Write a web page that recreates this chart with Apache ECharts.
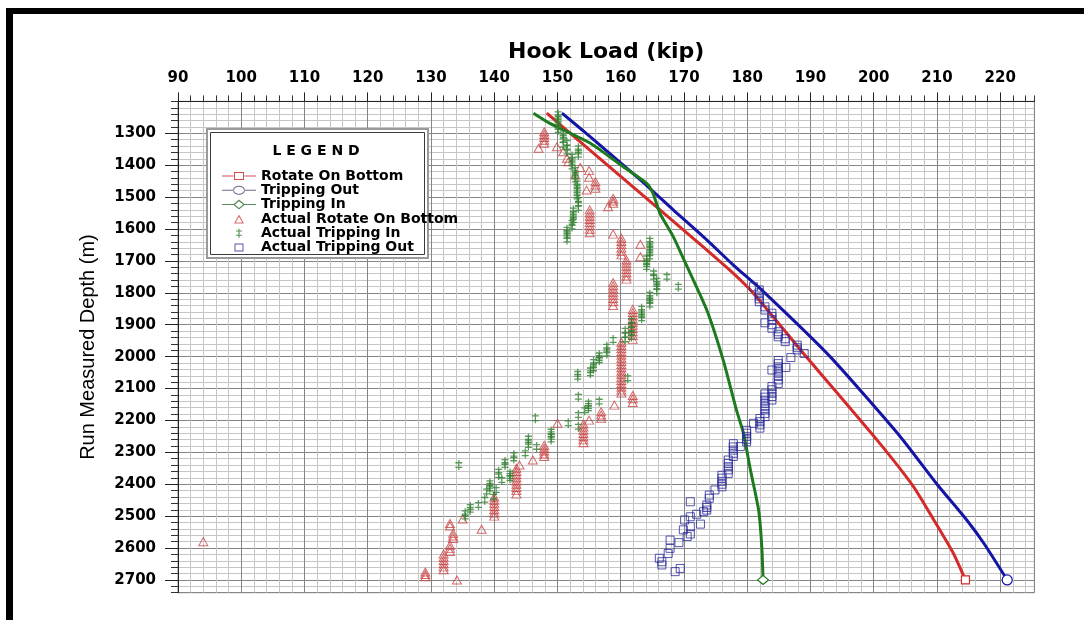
<!DOCTYPE html>
<html>
<head>
<meta charset="utf-8">
<title>Hook Load vs Run Measured Depth</title>
<script src="https://cdn.jsdelivr.net/npm/echarts/dist/echarts.min.js"></script>
<style>
  html, body { margin: 0; padding: 0; background: #ffffff; }
  #chart { width: 1084px; height: 620px; }
</style>
</head>
<body>
<div id="chart"></div>
<script>
// Model curves: [hook load (kip), run measured depth (m)]
const rotateOnBottom = [
  [148.3, 1237], [157.9, 1400], [165.6, 1530], [171.5, 1630], [177.8, 1739],
  [181.0, 1802], [188.9, 1990], [200.5, 2261], [206.3, 2408], [209.5, 2512],
  [212.6, 2617], [214.5, 2700]
];
const trippingOut = [
  [150.7, 1237], [155.2, 1311], [163.1, 1446], [168.3, 1540], [173.6, 1634],
  [177.8, 1713], [182.6, 1797], [193.1, 2000], [204.2, 2251], [210.0, 2400],
  [214.7, 2512], [217.4, 2585], [221.1, 2700]
];
const trippingIn = [
  [146.2, 1237], [148.8, 1269], [155.2, 1331], [160.4, 1405], [164.1, 1457],
  [165.1, 1488], [166.2, 1551], [168.3, 1624], [170.0, 1697], [173.6, 1854],
  [176.2, 2011], [178.3, 2168], [179.4, 2240], [180.5, 2355], [181.8, 2481],
  [182.3, 2596], [182.5, 2700]
];

// Field readings
const actualRotateOnBottom = [
  [147.9, 1295], [147.9, 1304], [147.9, 1313], [147.9, 1322], [147.9, 1331],
  [147.0, 1347], [149.9, 1342], [150.9, 1358], [151.5, 1378], [151.7, 1389],
  [153.6, 1407], [152.8, 1431], [155.0, 1417], [155.0, 1438],
  [156.0, 1452], [156.0, 1462], [156.0, 1472], [154.6, 1478],
  [158.8, 1504], [158.8, 1512], [158.8, 1519], [158.0, 1530],
  [155.1, 1540], [155.1, 1550], [155.1, 1560], [155.1, 1570], [155.1, 1580],
  [155.1, 1590], [155.1, 1601], [155.1, 1612], [158.8, 1616],
  [160.1, 1629], [160.1, 1639], [160.1, 1649], [160.1, 1660], [160.1, 1670], [160.1, 1681],
  [163.1, 1648], [163.1, 1687],
  [160.9, 1697], [160.9, 1707], [160.9, 1717], [160.9, 1727], [160.9, 1737],
  [160.9, 1747], [160.9, 1757],
  [158.8, 1768], [158.8, 1778], [158.8, 1788], [158.8, 1798], [158.8, 1808],
  [158.8, 1818], [158.8, 1828], [158.8, 1840],
  [161.9, 1852], [161.9, 1862], [161.9, 1872], [161.9, 1882], [161.9, 1892],
  [161.9, 1902], [161.9, 1912], [161.9, 1922], [161.9, 1934], [161.9, 1946],
  [160.1, 1955], [160.1, 1965], [160.1, 1975], [160.1, 1985], [160.1, 1995],
  [160.1, 2005], [160.1, 2015], [160.1, 2025], [160.1, 2035], [160.1, 2045],
  [160.1, 2055], [160.1, 2065], [160.1, 2075], [160.1, 2085], [160.1, 2095],
  [160.1, 2105], [160.1, 2114],
  [161.9, 2122], [161.9, 2132], [161.9, 2144], [159.0, 2152],
  [156.9, 2173], [156.9, 2183], [156.9, 2193], [155.0, 2199], [150.0, 2209],
  [154.1, 2211], [154.1, 2221], [154.1, 2231], [154.1, 2241], [154.1, 2251],
  [154.1, 2261], [154.1, 2270],
  [147.9, 2278], [147.9, 2287], [147.9, 2296], [147.9, 2305], [147.9, 2313],
  [146.1, 2324], [144.0, 2340],
  [143.5, 2350], [143.5, 2360], [143.5, 2370], [143.5, 2380], [143.5, 2390],
  [143.5, 2400], [143.5, 2410], [143.5, 2420], [143.5, 2431],
  [140.0, 2440], [140.0, 2450], [140.0, 2460], [140.0, 2470], [140.0, 2480],
  [140.0, 2490], [140.0, 2500],
  [135.0, 2509], [138.0, 2541], [133.0, 2523], [133.0, 2531],
  [133.5, 2554], [133.5, 2562], [133.5, 2570],
  [133.0, 2591], [133.0, 2601], [133.0, 2611],
  [132.0, 2619], [132.0, 2629], [132.0, 2639], [132.0, 2649], [132.0, 2659], [132.0, 2668],
  [129.1, 2675], [129.1, 2683], [129.1, 2690], [134.1, 2700], [94.0, 2580]
];
const actualTrippingIn = [
  [150.1, 1240], [150.1, 1250], [150.1, 1260], [150.1, 1270], [150.1, 1280], [150.1, 1290],
  [150.9, 1300], [150.9, 1310], [150.9, 1320], [150.9, 1336],
  [151.5, 1330], [151.5, 1345], [151.5, 1357],
  [153.3, 1347], [153.3, 1357], [153.3, 1367],
  [152.3, 1373], [152.3, 1383], [152.3, 1394], [152.3, 1404],
  [152.8, 1415], [152.8, 1425], [152.8, 1435], [152.8, 1445],
  [153.1, 1457], [153.1, 1467], [153.1, 1478], [153.1, 1488], [153.1, 1498],
  [153.3, 1509], [153.3, 1521], [153.3, 1534],
  [152.5, 1542], [152.5, 1552], [152.5, 1562], [152.5, 1572],
  [152.3, 1581], [152.3, 1592],
  [151.5, 1602], [151.5, 1612], [151.5, 1622], [151.5, 1633],
  [164.6, 1637], [164.6, 1647], [164.6, 1657], [164.6, 1666], [164.6, 1676], [164.6, 1686],
  [164.1, 1692], [164.1, 1701], [164.1, 1710], [164.1, 1719],
  [165.2, 1739], [165.2, 1750], [167.3, 1750], [169.1, 1781],
  [165.7, 1762], [165.7, 1772], [165.7, 1782], [165.7, 1795],
  [164.6, 1806], [164.6, 1816], [164.6, 1826], [164.6, 1837],
  [163.3, 1850], [163.3, 1860], [163.3, 1870], [163.3, 1880],
  [161.7, 1888], [161.7, 1901], [161.7, 1914], [161.7, 1926], [161.7, 1937],
  [160.7, 1919], [160.7, 1932], [160.7, 1946], [158.8, 1948],
  [157.8, 1969], [157.8, 1980], [157.8, 1990],
  [156.6, 1996], [156.6, 2004], [156.6, 2011],
  [155.7, 2017], [155.7, 2027], [155.7, 2037],
  [155.2, 2043], [155.2, 2052], [153.2, 2054], [153.2, 2063], [161.1, 2068],
  [153.3, 2126], [156.6, 2141], [154.9, 2147], [154.9, 2155], [154.9, 2162],
  [154.3, 2168], [153.3, 2183], [146.5, 2193], [151.7, 2209], [153.3, 2220],
  [149.0, 2235], [149.0, 2243], [149.0, 2251], [149.0, 2260],
  [145.4, 2257], [145.4, 2267], [145.4, 2277], [146.7, 2283], [144.9, 2303],
  [143.1, 2309], [143.1, 2319], [141.7, 2330], [141.7, 2340], [134.4, 2340],
  [142.5, 2366], [142.5, 2374], [142.5, 2381], [140.7, 2361], [140.7, 2371],
  [141.2, 2387], [139.3, 2397], [139.3, 2405], [139.3, 2413],
  [140.3, 2418], [138.8, 2423], [139.9, 2439], [138.5, 2449], [137.5, 2465],
  [136.2, 2471], [136.2, 2480], [135.4, 2491], [135.4, 2501]
];
const actualTrippingOut = [
  [181.0, 1781], [181.9, 1791], [181.9, 1800], [181.9, 1810], [181.9, 1819], [181.9, 1828],
  [182.8, 1844], [182.8, 1854],
  [183.9, 1864], [183.9, 1874], [183.9, 1884], [183.9, 1900], [183.9, 1911], [182.8, 1894],
  [184.9, 1922], [184.9, 1930], [184.9, 1938], [186.0, 1944], [186.0, 1953],
  [187.9, 1964], [187.9, 1972], [187.9, 1979], [189.0, 1990], [186.9, 2003],
  [184.9, 2012], [184.9, 2022], [184.9, 2032], [184.9, 2042], [184.9, 2052],
  [184.9, 2062], [184.9, 2073], [184.9, 2084], [186.1, 2034], [183.9, 2042],
  [183.9, 2094], [183.9, 2104], [183.9, 2115], [183.9, 2125], [183.9, 2136],
  [182.8, 2117], [182.8, 2127], [182.8, 2137], [182.8, 2147], [182.8, 2157],
  [182.8, 2167], [182.8, 2178], [182.8, 2188],
  [182.0, 2194], [182.0, 2204], [182.0, 2214], [182.0, 2224], [181.0, 2209],
  [179.9, 2231], [179.9, 2240], [179.9, 2250], [179.9, 2259], [179.9, 2267], [178.9, 2282],
  [177.8, 2273], [177.8, 2283], [177.8, 2293], [177.8, 2303], [177.8, 2313],
  [177.0, 2324], [177.0, 2335], [177.0, 2345], [177.0, 2355], [177.0, 2366],
  [176.0, 2372], [176.0, 2381], [176.0, 2391], [176.0, 2400], [176.0, 2408],
  [174.9, 2418], [174.0, 2434], [174.0, 2444],
  [173.6, 2465], [173.6, 2473], [173.6, 2481], [173.1, 2486], [172.0, 2494],
  [171.0, 2455], [171.0, 2502], [170.1, 2512], [172.6, 2525], [171.0, 2533], [169.9, 2543],
  [171.0, 2556], [170.5, 2564], [169.2, 2583], [167.8, 2575], [167.8, 2601], [167.5, 2617],
  [166.1, 2632], [166.5, 2643], [166.5, 2653], [169.4, 2664], [168.6, 2674]
];

// Axis ranges and tick steps
const loadMin = 90, loadMax = 225.4, loadMajor = 10, loadMinor = 2;
const depthMin = 1200, depthMax = 2740, depthMajor = 100, depthMinor = 20;

const legendNames = [
  'Rotate On Bottom', 'Tripping Out', 'Tripping In',
  'Actual Rotate On Bottom', 'Actual Tripping In', 'Actual Tripping Out'
];

const RED = '#d42a2a', BLUE = '#1414a6', GREEN = '#1e7a1e';
const RED_MARK = '#c94444', GREEN_MARK = '#2f7f2f', BLUE_MARK = '#2a2a9a';

const tickFont = { fontFamily: 'DejaVu Sans', fontWeight: 'bold', fontSize: 15, color: '#000' };
const plainNumber = v => String(v);

// Legend icons drawn in a 34 x 10 box; the two dots pin the box size.
const pin = 'M0,0h0.01v0.01h-0.01z M33.99,9.99h0.01v0.01h-0.01z ';
const stubs = 'M0,4.5h11.5v1h-11.5z M22.5,4.5h11.5v1h-11.5z ';
const legendIcons = [
  'path://' + pin + stubs + 'M12,1h10v8h-10z M13,2v6h8v-6z',
  'path://' + pin + stubs + 'M11,5a6,4.5 0 1,0 12,0a6,4.5 0 1,0 -12,0z M12,5a5,3.5 0 1,1 10,0a5,3.5 0 1,1 -10,0z',
  'path://' + pin + stubs + 'M17,0L23,5L17,10L11,5Z M17,1.6L12.9,5L17,8.4L21.1,5Z',
  'path://' + pin + 'M17,0.5L22,9.5L12,9.5Z M17,2.8L13.7,8.6L20.3,8.6Z',
  'path://' + pin + 'M16.4,0.5h1.2v9h-1.2z M14,2.4h6v1h-6z M14,6.6h6v1h-6z',
  'path://' + pin + 'M12.5,1h9v8h-9z M13.5,2v6h7v-6z'
];
const legendColors = ['#c85050', '#6a6a8a', '#5a8a5a', RED_MARK, GREEN_MARK, BLUE_MARK];

const crossSymbol = 'path://M3,0h1.3v10h-1.3z M0,2h7.3v1.3h-7.3z M0,6.7h7.3v1.3h-7.3z';

function endMark(points, symbol, color, size) {
  const last = points[points.length - 1];
  return {
    symbol: symbol,
    symbolSize: size,
    label: { show: false },
    itemStyle: { color: '#fff', borderColor: color, borderWidth: 1.2 },
    data: [{ coord: last }]
  };
}

function curve(name, points, color, endSymbol, endSize) {
  return {
    name: name, type: 'line', xAxisIndex: 1, yAxisIndex: 1,
    data: points, symbol: 'none', smooth: 0.2,
    lineStyle: { color: color, width: 3 },
    itemStyle: { color: color },
    markPoint: endMark(points, endSymbol, color, endSize),
    z: 3
  };
}

function readings(name, points, symbol, size, style) {
  return {
    name: name, type: 'scatter', xAxisIndex: 1, yAxisIndex: 1,
    data: points, symbol: symbol, symbolSize: size, itemStyle: style, z: 4
  };
}

const chart = echarts.init(document.getElementById('chart'), null, { renderer: 'canvas' });

chart.setOption({
  animation: false,
  backgroundColor: '#ffffff',
  grid: {
    left: 178, right: 49.6, top: 101.4, bottom: 27.3,
    containLabel: false, outerBoundsMode: 'none',
    show: true, borderColor: '#8a8a8a', borderWidth: 1, backgroundColor: '#fff'
  },
  xAxis: [
    {
      type: 'value', position: 'top', min: loadMin, max: loadMax, interval: loadMinor,
      axisLine: { show: false },
      axisTick: { show: true, length: 6, lineStyle: { color: '#333' } },
      axisLabel: { show: false },
      splitLine: { show: true, lineStyle: { color: '#c6c6c6', width: 1 } }
    },
    {
      type: 'value', position: 'top', min: loadMin, max: loadMax, interval: loadMajor,
      name: 'Hook Load (kip)', nameLocation: 'middle', nameGap: 38,
      nameTextStyle: { fontFamily: 'DejaVu Sans', fontWeight: 'bold', fontSize: 22, color: '#000' },
      axisLine: { show: true, onZero: false, lineStyle: { color: '#222', width: 1 } },
      axisTick: { show: true, length: 9, lineStyle: { color: '#222' } },
      axisLabel: Object.assign({ margin: 16, showMaxLabel: false, formatter: plainNumber }, tickFont),
      splitLine: { show: true, lineStyle: { color: '#858585', width: 1 } }
    }
  ],
  yAxis: [
    {
      type: 'value', position: 'left', inverse: true, min: depthMin, max: depthMax, interval: depthMinor,
      axisLine: { show: false },
      axisTick: { show: true, length: 7, lineStyle: { color: '#333' } },
      axisLabel: { show: false },
      splitLine: { show: true, lineStyle: { color: '#c6c6c6', width: 1 } }
    },
    {
      type: 'value', position: 'left', inverse: true, min: depthMin, max: depthMax, interval: depthMajor,
      name: 'Run Measured Depth (m)', nameLocation: 'middle', nameGap: 80,
      nameTextStyle: { fontFamily: 'Liberation Sans', fontSize: 20, color: '#000' },
      axisLine: { show: true, onZero: false, lineStyle: { color: '#222', width: 1 } },
      axisTick: { show: true, length: 13, lineStyle: { color: '#222' } },
      axisLabel: Object.assign({ margin: 22, showMinLabel: false, showMaxLabel: false, formatter: plainNumber }, tickFont),
      splitLine: { show: true, lineStyle: { color: '#858585', width: 1 } }
    }
  ],
  legend: {
    orient: 'vertical', left: 217, top: 164, z: 20,
    itemWidth: 34, itemHeight: 10, itemGap: 0.3,
    selectedMode: false,
    itemStyle: { borderWidth: 0 },
    textStyle: { fontFamily: 'DejaVu Sans', fontWeight: 'bold', fontSize: 14, color: '#000', lineHeight: 13 },
    data: legendNames.map((n, i) => ({
      name: n, icon: legendIcons[i],
      itemStyle: { color: legendColors[i], borderWidth: 0 }
    }))
  },
  graphic: [
    { type: 'rect', z: 15, shape: { x: 12, y: 8, width: 1072, height: 6 }, style: { fill: '#000' } },
    { type: 'rect', z: 15, shape: { x: 6, y: 8, width: 7, height: 612 }, style: { fill: '#000' } },
    { type: 'rect', z: 15, shape: { x: 207, y: 129, width: 221, height: 129 },
      style: { fill: '#fff', stroke: '#9a9a9a', lineWidth: 2 } },
    { type: 'rect', z: 16, shape: { x: 210.5, y: 132.5, width: 214, height: 122 },
      style: { fill: '#fff', stroke: '#3a3a3a', lineWidth: 1 } },
    { type: 'text', z: 17, x: 316, y: 151,
      style: { text: 'L E G E N D', fontFamily: 'DejaVu Sans', fontWeight: 'bold', fontSize: 14,
               fill: '#000', align: 'center', verticalAlign: 'middle' } }
  ],
  series: [
    curve('Rotate On Bottom', rotateOnBottom, RED, 'rect', 8),
    curve('Tripping Out', trippingOut, BLUE, 'circle', 10),
    curve('Tripping In', trippingIn, GREEN, 'diamond', [11, 9]),
    readings('Actual Rotate On Bottom', actualRotateOnBottom, 'triangle', [9, 8],
      { color: 'rgba(0,0,0,0)', borderColor: RED_MARK, borderWidth: 1 }),
    readings('Actual Tripping In', actualTrippingIn, crossSymbol, [7, 10],
      { color: GREEN_MARK }),
    readings('Actual Tripping Out', actualTrippingOut, 'rect', [8, 8],
      { color: 'rgba(0,0,0,0)', borderColor: BLUE_MARK, borderWidth: 1 })
  ]
});
</script>
</body>
</html>
